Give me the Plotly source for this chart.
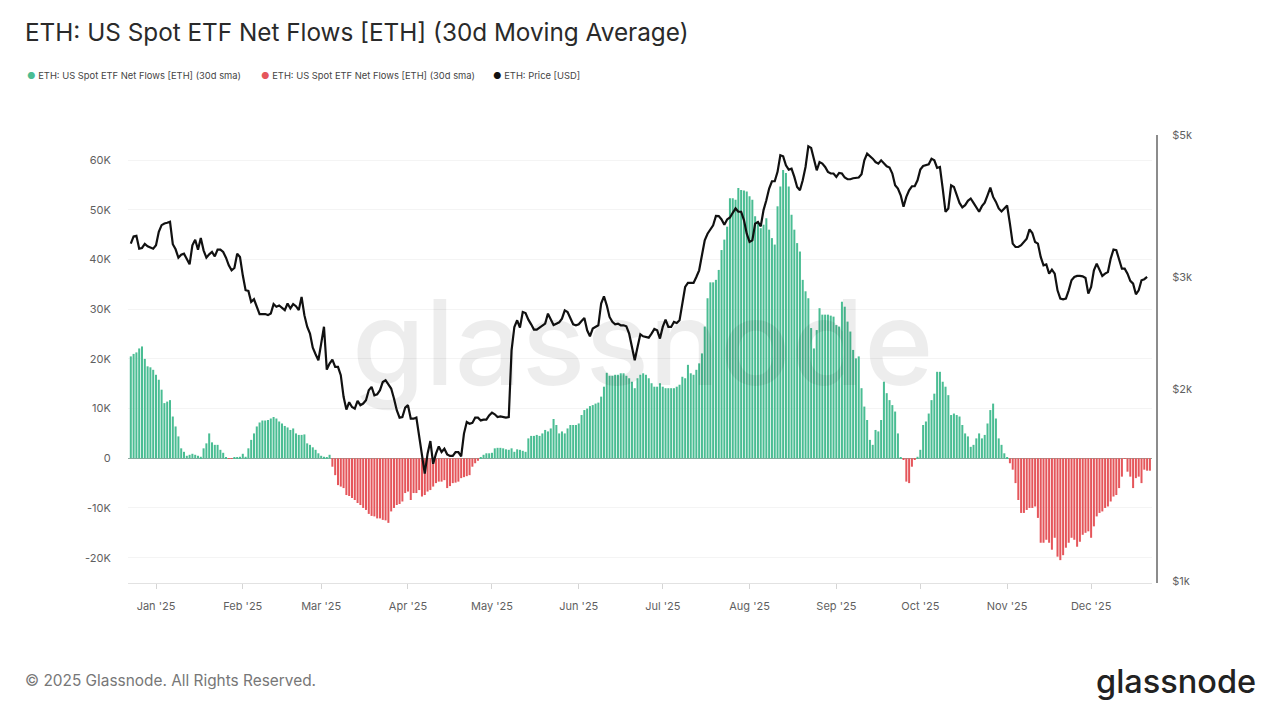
import pandas as pd
import plotly.graph_objects as go

TITLE = "ETH: US Spot ETF Net Flows [ETH] (30d Moving Average)"
FLOW_NAME = "ETH: US Spot ETF Net Flows [ETH] (30d sma)"
PRICE_NAME = "ETH: Price [USD]"
FOOTER = "© 2025 Glassnode. All Rights Reserved."
BRAND = "glassnode"
START_DATE = "2024-12-23"

flow_ticks = [-20, -10, 0, 10, 20, 30, 40, 50, 60]
flow_labels = ["-20K", "-10K", "0", "10K", "20K", "30K", "40K", "50K", "60K"]
price_ticks = [1000, 2000, 3000, 5000]
price_labels = ["$1k", "$2k", "$3k", "$5k"]

# thousand ETH per day
flows = [
    20.5, 21.0, 21.3, 22.1, 22.5, 20.0, 18.5, 18.3, 17.8, 16.8,
    15.8, 13.8, 11.1, 11.4, 11.7, 8.4, 6.4, 4.4, 2.0, 1.3,
    0.5, 0.7, 0.9, 0.7, 0.5, 0.3, 2.0, 3.0, 5.0, 3.2,
    2.7, 2.7, 1.7, 1.1, 0.2, -0.1, -0.1, 0.1, 0.1, 0.3,
    0.9, 0.3, 2.0, 3.7, 5.0, 6.4, 7.2, 7.6, 7.6, 7.7,
    8.0, 8.3, 8.0, 7.4, 7.0, 6.5, 6.2, 5.7, 6.0, 5.0,
    4.7, 4.7, 4.8, 3.0, 2.7, 2.2, 1.7, 1.0, 0.5, 0.3,
    0.2, 0.7, -1.7, -3.4, -5.4, -5.7, -6.0, -7.4, -7.6, -8.0,
    -8.4, -9.0, -9.4, -10.0, -10.4, -11.2, -11.6, -11.7, -12.1, -12.1,
    -12.4, -12.5, -13.0, -10.7, -10.0, -9.4, -9.2, -8.7, -7.0, -6.7,
    -8.4, -7.0, -7.0, -6.4, -7.7, -7.4, -6.7, -6.4, -5.7, -5.0,
    -4.7, -4.7, -4.4, -6.0, -5.6, -5.0, -4.9, -4.7, -4.0, -3.8,
    -3.6, -3.4, -1.7, -1.0, -0.5, 0.1, 0.7, 1.0, 1.0, 1.1,
    2.0, 2.1, 2.1, 2.0, 1.8, 1.7, 2.0, 1.3, 1.8, 1.7,
    1.5, 1.3, 4.0, 4.5, 4.5, 4.7, 4.5, 5.0, 5.7, 5.4,
    6.0, 7.9, 6.7, 5.0, 5.4, 5.0, 6.0, 6.7, 6.7, 6.7,
    7.0, 8.7, 9.7, 10.0, 10.5, 10.7, 11.0, 11.2, 12.4, 14.4,
    17.2, 16.6, 16.6, 16.8, 16.8, 17.1, 17.1, 16.6, 16.1, 15.4,
    14.1, 16.1, 16.8, 17.1, 16.8, 16.1, 15.1, 14.4, 14.4, 15.1,
    14.4, 14.1, 14.1, 14.1, 14.1, 14.4, 14.8, 16.4, 16.1, 18.8,
    17.1, 16.8, 17.8, 19.1, 21.1, 26.5, 32.2, 35.4, 35.4, 35.9,
    37.9, 41.9, 44.0, 46.6, 52.3, 52.3, 52.0, 54.4, 54.0, 53.9,
    53.7, 52.7, 52.0, 48.7, 47.7, 46.3, 47.0, 48.3, 46.0, 44.3,
    43.0, 50.7, 54.7, 58.0, 57.4, 54.7, 49.0, 46.0, 43.3, 41.6,
    35.9, 33.6, 32.2, 26.2, 22.1, 25.8, 30.2, 28.9, 28.9, 28.9,
    28.7, 28.5, 26.8, 26.5, 31.5, 30.5, 27.5, 25.5, 21.8, 20.1,
    20.5, 14.1, 10.4, 7.7, 3.7, 2.7, 5.7, 5.4, 7.7, 15.4,
    13.1, 11.7, 10.7, 9.4, 5.0, 0.1, -0.3, -4.7, -5.0, -1.7,
    -0.2, 0.3, 1.7, 6.7, 7.4, 9.0, 11.7, 13.0, 17.4, 17.4,
    15.4, 14.4, 12.7, 8.7, 9.0, 8.7, 8.4, 6.7, 5.0, 4.4,
    2.3, 2.7, 4.0, 5.0, 4.0, 4.7, 7.0, 9.7, 11.0, 8.0,
    4.0, 2.7, 1.0, 0.1, -1.0, -2.3, -5.0, -8.4, -11.0, -11.0,
    -10.4, -10.0, -10.0, -9.7, -12.0, -17.0, -17.0, -16.4, -17.0, -18.4,
    -16.0, -19.8, -20.5, -19.5, -18.0, -17.0, -16.0, -16.4, -17.8, -16.8,
    -15.4, -15.0, -14.7, -16.0, -13.7, -11.7, -11.0, -10.7, -10.0, -9.7,
    -8.7, -7.7, -7.4, -6.0, -3.7, -0.1, -2.7, -3.7, -6.0, -4.0,
    -3.7, -5.0, -2.3, -2.5, -2.5,
]

# USD per ETH
price = [
    3382, 3472, 3480, 3321, 3329, 3378, 3350, 3334, 3321, 3361,
    3528, 3615, 3637, 3646, 3659, 3374, 3313, 3214, 3249, 3261,
    3203, 3138, 3361, 3430, 3309, 3451, 3301, 3214, 3253, 3281,
    3230, 3309, 3309, 3281, 3214, 3127, 3071, 3097, 3261, 3222,
    3016, 2858, 2851, 2740, 2766, 2692, 2622, 2622, 2622, 2612,
    2628, 2718, 2692, 2705, 2686, 2660, 2724, 2676, 2718, 2698,
    2660, 2790, 2612, 2505, 2444, 2323, 2268, 2219, 2357, 2505,
    2146, 2193, 2225, 2167, 2167, 2103, 1945, 1857, 1907, 1875,
    1864, 1917, 1887, 1898, 1921, 1992, 2016, 1956, 1963, 1992,
    2052, 2065, 2035, 2004, 1933, 1853, 1804, 1808, 1870, 1887,
    1797, 1797, 1804, 1683, 1565, 1474, 1584, 1658, 1527, 1584,
    1626, 1593, 1612, 1580, 1571, 1571, 1593, 1593, 1569, 1703,
    1776, 1765, 1770, 1804, 1804, 1786, 1791, 1791, 1819, 1837,
    1826, 1808, 1812, 1808, 1804, 1808, 2301, 2503, 2564, 2497,
    2642, 2632, 2570, 2527, 2479, 2479, 2497, 2512, 2533, 2626,
    2564, 2521, 2533, 2545, 2579, 2658, 2642, 2589, 2527, 2518,
    2527, 2558, 2585, 2473, 2420, 2488, 2503, 2518, 2723, 2796,
    2706, 2595, 2549, 2527, 2533, 2518, 2518, 2509, 2443, 2329,
    2220, 2329, 2437, 2420, 2414, 2408, 2443, 2485, 2473, 2400,
    2503, 2570, 2503, 2503, 2549, 2539, 2564, 2723, 2892, 2934,
    2934, 2934, 2998, 3071, 3242, 3422, 3505, 3561, 3613, 3739,
    3735, 3690, 3621, 3690, 3717, 3780, 3840, 3794, 3794, 3681,
    3505, 3402, 3422, 3635, 3657, 3600, 3817, 3955, 4125, 4236,
    4236, 4382, 4652, 4635, 4487, 4418, 4434, 4303, 4150, 4100,
    4251, 4460, 4807, 4778, 4596, 4407, 4540, 4514, 4460, 4382,
    4356, 4356, 4303, 4366, 4356, 4293, 4267, 4267, 4282, 4287,
    4293, 4345, 4569, 4680, 4641, 4596, 4540, 4514, 4569, 4525,
    4471, 4450, 4356, 4175, 4125, 4027, 3863, 4003, 4100, 4160,
    4160, 4251, 4418, 4476, 4487, 4503, 4596, 4569, 4445, 4460,
    4125, 3794, 3840, 4175, 4150, 4027, 3917, 3854, 3886, 3947,
    3980, 3917, 3849, 3794, 3872, 3922, 4027, 4140, 4003, 3932,
    3840, 3799, 3840, 3881, 3635, 3382, 3341, 3341, 3362, 3402,
    3443, 3561, 3514, 3402, 3382, 3223, 3127, 3138, 3034, 3078,
    3034, 2857, 2772, 2765, 2772, 2857, 2963, 2998, 3009, 3009,
    3005, 2987, 2823, 2892, 3071, 3146, 3071, 3009, 3034, 3052,
    3204, 3311, 3303, 3184, 3089, 3089, 3034, 2956, 2927, 2816,
    2857, 2963, 2974, 2998,
]

dates = pd.date_range(START_DATE, periods=len(flows), freq="D")
green_vals = [v if v >= 0 else None for v in flows]
red_vals = [v if v < 0 else None for v in flows]

GREEN = "#4abd93"
RED = "#e5565b"
BLACK = "#111111"
OFF = 8                       # the page body adds an 8px margin on each side
W, H = 1280 - 2 * OFF, 716 - 2 * OFF
LEFT, RIGHT_AXIS, TOP, BOTTOM = 128, 1157, 135, 583
L, R, T, B = LEFT - OFF, W - (RIGHT_AXIS - OFF), TOP - OFF, H - (BOTTOM - OFF)
PW, PH = W - L - R, H - T - B


def ax(px):
    return (px - LEFT) / PW


def ay(py):
    return 1 - (py - TOP) / PH


fig = go.Figure()
fig.add_bar(x=dates, y=green_vals, marker=dict(color=GREEN, line_width=0), showlegend=False, name=FLOW_NAME)
fig.add_bar(x=dates, y=red_vals, marker=dict(color=RED, line_width=0), showlegend=False, name=FLOW_NAME)
fig.add_scatter(x=dates[:len(price)], y=price, yaxis="y2", mode="lines",
                line=dict(color=BLACK, width=2.2), showlegend=False, name=PRICE_NAME)


def legend_item(px, color, label):
    return dict(text=f"<span style='color:{color}'>●</span> {label}", xref="paper", yref="paper",
                x=ax(px), y=ay(76), xanchor="left", yanchor="middle", showarrow=False,
                font=dict(size=9.4, color="#444444", family="Inter, sans-serif"))


fig.update_layout(
    showlegend=False,
    paper_bgcolor="white", plot_bgcolor="white",
    margin=dict(l=L, r=R, t=T, b=B, autoexpand=False),
    barmode="overlay", bargap=0.28,
    font=dict(family="Inter, Liberation Sans, sans-serif", color="#555555", size=11),
    title=dict(text=TITLE, x=(25 - OFF) / W, xref="container", xanchor="left",
               y=1 - (32 - OFF) / H, yref="container", yanchor="middle",
               font=dict(size=24.3, color="#2a2a2a", family="Inter, sans-serif")),
    xaxis=dict(type="date", domain=[0, ax(1152)],
               range=["2024-12-22 00:00", "2025-12-22 18:00"],
               dtick="M1", tick0="2025-01-01", tickformat="%b '%y",
               showgrid=False, showline=True, linecolor="#e2e2e2", linewidth=1,
               ticks="outside", ticklen=5, tickcolor="#d5d5d5",
               ticklabelstandoff=8, zeroline=False,
               tickfont=dict(size=11, color="#5f5f5f")),
    yaxis=dict(range=[-25.1, 65.05], tickvals=flow_ticks, ticktext=flow_labels,
               showgrid=True, gridcolor="#f4f4f4", gridwidth=1,
               zeroline=True, zerolinecolor="#8fa89f", zerolinewidth=1,
               showline=False, ticks="outside", ticklen=14, tickcolor="rgba(0,0,0,0)",
               tickfont=dict(size=11, color="#5f5f5f")),
    yaxis2=dict(type="log", overlaying="y", anchor="free", position=1, side="right",
                range=[2.9969, 3.6995], tickvals=price_ticks, ticktext=price_labels,
                showgrid=False, zeroline=False, showline=True, linecolor="#8c8c8c", linewidth=2,
                ticks="outside", ticklen=12, tickcolor="rgba(0,0,0,0)",
                tickfont=dict(size=11, color="#5f5f5f")),
    annotations=[
        legend_item(25, GREEN, FLOW_NAME),
        legend_item(259, RED, FLOW_NAME),
        legend_item(491, BLACK, PRICE_NAME),
        dict(text=BRAND, xref="paper", yref="paper", x=ax(642), y=ay(342),
             xanchor="center", yanchor="middle", showarrow=False,
             font=dict(size=118, weight=500, color="rgba(0,0,0,0.07)", family="Inter, sans-serif")),
        dict(text=FOOTER, xref="paper", yref="paper", x=ax(22.5), y=ay(680),
             xanchor="left", yanchor="middle", showarrow=False,
             font=dict(size=15.4, color="#777777", family="Inter, sans-serif")),
        dict(text=BRAND, xref="paper", yref="paper", x=ax(1258), y=ay(681),
             xanchor="right", yanchor="middle", showarrow=False,
             font=dict(size=32.5, weight=500, color="#222222", family="Inter, sans-serif")),
    ],
)
fig.write_html("out.html", config=dict(displayModeBar=False))
